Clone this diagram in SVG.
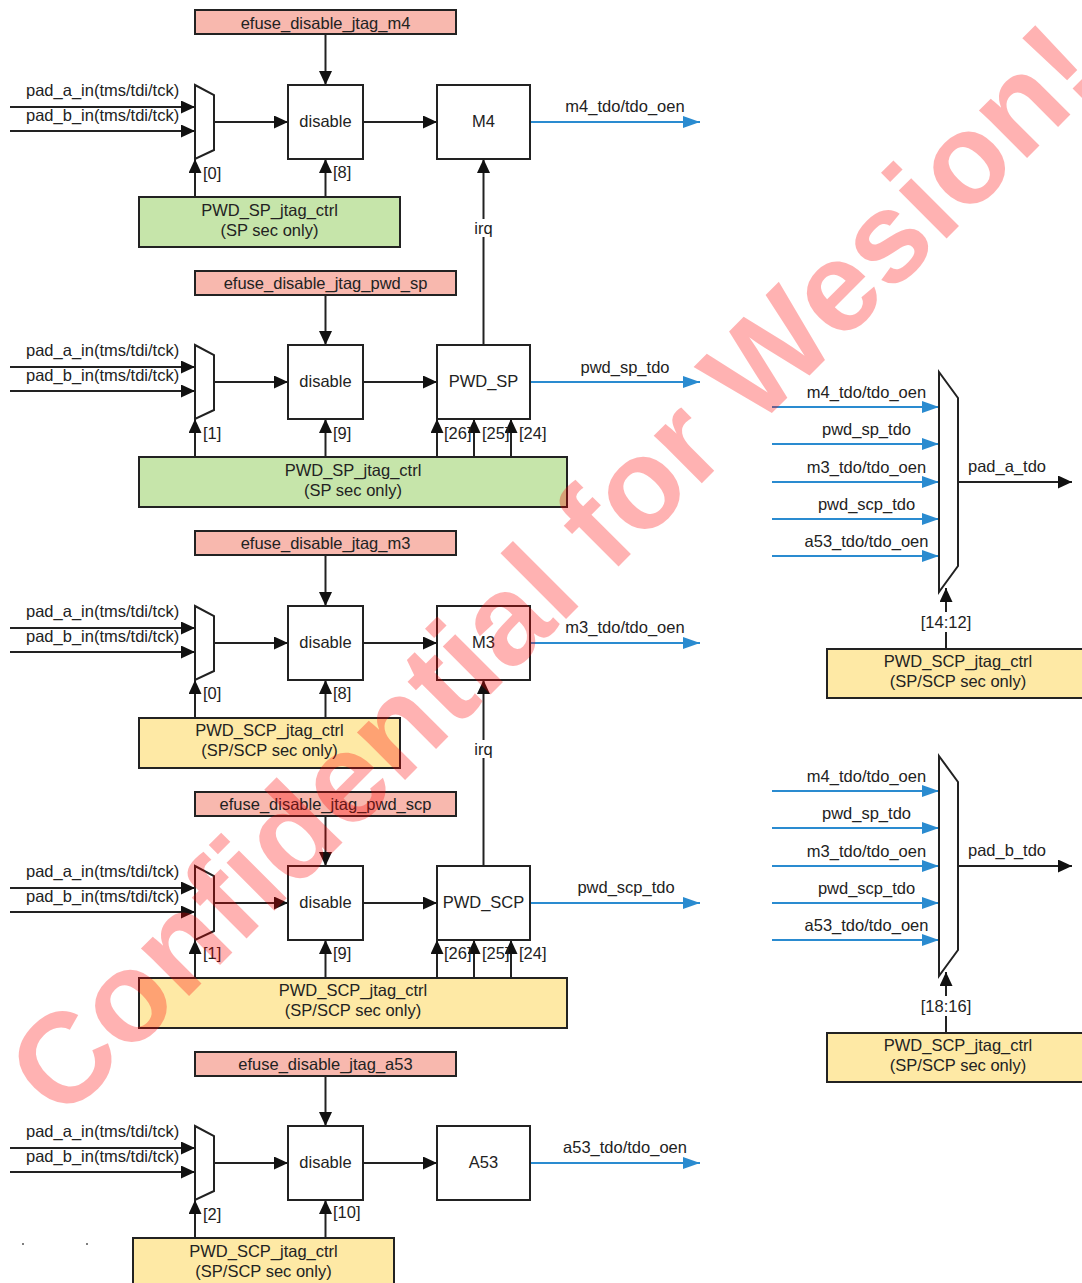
<svg xmlns="http://www.w3.org/2000/svg" width="1082" height="1283" viewBox="0 0 1082 1283">
<style>
text{font-family:"Liberation Sans",Arial,sans-serif;font-size:16.5px;fill:#222}
.c{text-anchor:middle}
.box{fill:#fff;stroke:#222;stroke-width:2}
.ef{fill:#f8b8ae;stroke:#222;stroke-width:2}
.gr{fill:#c6e5aa;stroke:#222;stroke-width:2}
.ye{fill:#fee9a5;stroke:#222;stroke-width:2}
.mux{fill:#fff;stroke:#222;stroke-width:2;stroke-linejoin:miter}
.k{stroke:#222;stroke-width:2;fill:none;marker-end:url(#ak)}
.b{stroke:#2a8bd0;stroke-width:2;fill:none;marker-end:url(#ab)}
.bg{fill:#fff}
.wm{font-family:"Liberation Sans",Arial,sans-serif;font-weight:bold;font-size:128px;fill:#ff0000;fill-opacity:0.3}
</style>
<defs>
<marker id="ak" markerUnits="userSpaceOnUse" markerWidth="15" markerHeight="13" refX="14" refY="6.5" orient="auto"><path d="M0,0 L14,6.5 L0,13 z" fill="#111"/></marker>
<marker id="ab" markerUnits="userSpaceOnUse" markerWidth="18" markerHeight="12" refX="17" refY="6" orient="auto"><path d="M0,0 L17,6 L0,12 z" fill="#2a8bd0"/></marker>
</defs>
<rect width="1082" height="1283" fill="#fff"/>

<g id="connectors">
<!-- section 1 -->
<path class="k" d="M325.5,34V85"/>
<path class="k" d="M10,107H195"/><path class="k" d="M10,131H195"/>
<path class="k" d="M214,122H288"/><path class="k" d="M363,122H437"/>
<path class="b" d="M530,122H700"/>
<path class="k" d="M195,197V159"/><path class="k" d="M325.5,197V159"/>
<path class="k" d="M483.5,345V159"/>
<!-- section 2 -->
<path class="k" d="M325.5,294V345"/>
<path class="k" d="M10,367H195"/><path class="k" d="M10,391H195"/>
<path class="k" d="M214,382H288"/><path class="k" d="M363,382H437"/>
<path class="b" d="M530,382H700"/>
<path class="k" d="M195,457V419"/><path class="k" d="M325.5,457V419"/>
<path class="k" d="M437,457V419"/><path class="k" d="M474,457V419"/><path class="k" d="M511,457V419"/>
<!-- section 3 -->
<path class="k" d="M325.5,555V606"/>
<path class="k" d="M10,628H195"/><path class="k" d="M10,652H195"/>
<path class="k" d="M214,643H288"/><path class="k" d="M363,643H437"/>
<path class="b" d="M530,643H700"/>
<path class="k" d="M195,718V680"/><path class="k" d="M325.5,718V680"/>
<path class="k" d="M483.5,866V680"/>
<!-- section 4 -->
<path class="k" d="M325.5,815V866"/>
<path class="k" d="M10,888H195"/><path class="k" d="M10,912H195"/>
<path class="k" d="M214,903H288"/><path class="k" d="M363,903H437"/>
<path class="b" d="M530,903H700"/>
<path class="k" d="M195,978V940"/><path class="k" d="M325.5,978V940"/>
<path class="k" d="M437,978V940"/><path class="k" d="M474,978V940"/><path class="k" d="M511,978V940"/>
<!-- section 5 -->
<path class="k" d="M325.5,1075V1126"/>
<path class="k" d="M10,1148H195"/><path class="k" d="M10,1172H195"/>
<path class="k" d="M214,1163H288"/><path class="k" d="M363,1163H437"/>
<path class="b" d="M530,1163H700"/>
<path class="k" d="M195,1238V1200"/><path class="k" d="M325.5,1238V1200"/>
<!-- right mux A -->
<path class="b" d="M772,407H939"/><path class="b" d="M772,444H939"/><path class="b" d="M772,482H939"/><path class="b" d="M772,519H939"/><path class="b" d="M772,556H939"/>
<path class="k" d="M958,482H1072"/>
<path class="k" d="M946,649V588"/>
<!-- right mux B -->
<path class="b" d="M772,791H939"/><path class="b" d="M772,828H939"/><path class="b" d="M772,866H939"/><path class="b" d="M772,903H939"/><path class="b" d="M772,940H939"/>
<path class="k" d="M958,866H1072"/>
<path class="k" d="M946,1033V972"/>

<!-- connector labels -->
<text x="26" y="96">pad_a_in(tms/tdi/tck)</text><text x="26" y="121">pad_b_in(tms/tdi/tck)</text>
<text x="26" y="356">pad_a_in(tms/tdi/tck)</text><text x="26" y="381">pad_b_in(tms/tdi/tck)</text>
<text x="26" y="617">pad_a_in(tms/tdi/tck)</text><text x="26" y="642">pad_b_in(tms/tdi/tck)</text>
<text x="26" y="877">pad_a_in(tms/tdi/tck)</text><text x="26" y="902">pad_b_in(tms/tdi/tck)</text>
<text x="26" y="1137">pad_a_in(tms/tdi/tck)</text><text x="26" y="1162">pad_b_in(tms/tdi/tck)</text>

<text class="c" x="625" y="112">m4_tdo/tdo_oen</text>
<text class="c" x="625" y="373">pwd_sp_tdo</text>
<text class="c" x="625" y="633">m3_tdo/tdo_oen</text>
<text class="c" x="626" y="893">pwd_scp_tdo</text>
<text class="c" x="625" y="1153">a53_tdo/tdo_oen</text>

<text x="203" y="179">[0]</text><text x="333" y="178">[8]</text>
<text x="203" y="439">[1]</text><text x="333" y="439">[9]</text>
<text x="444" y="439">[26]</text><text x="482" y="439">[25]</text><text x="519" y="439">[24]</text>
<text x="203" y="699">[0]</text><text x="333" y="699">[8]</text>
<text x="203" y="959">[1]</text><text x="333" y="959">[9]</text>
<text x="444" y="959">[26]</text><text x="482" y="959">[25]</text><text x="519" y="959">[24]</text>
<text x="203" y="1220">[2]</text><text x="333" y="1218">[10]</text>

<rect class="bg" x="472" y="219" width="24" height="18"/><text class="c" x="483.5" y="234">irq</text>
<rect class="bg" x="472" y="740" width="24" height="18"/><text class="c" x="483.5" y="755">irq</text>

<text class="c" x="866.5" y="398">m4_tdo/tdo_oen</text>
<text class="c" x="866.5" y="435">pwd_sp_tdo</text>
<text class="c" x="866.5" y="473">m3_tdo/tdo_oen</text>
<text class="c" x="866.5" y="510">pwd_scp_tdo</text>
<text class="c" x="866.5" y="547">a53_tdo/tdo_oen</text>
<text x="968" y="472">pad_a_tdo</text>
<rect class="bg" x="918" y="612" width="56" height="20"/><text class="c" x="946" y="628">[14:12]</text>

<text class="c" x="866.5" y="782">m4_tdo/tdo_oen</text>
<text class="c" x="866.5" y="819">pwd_sp_tdo</text>
<text class="c" x="866.5" y="857">m3_tdo/tdo_oen</text>
<text class="c" x="866.5" y="894">pwd_scp_tdo</text>
<text class="c" x="866.5" y="931">a53_tdo/tdo_oen</text>
<text x="968" y="856">pad_b_tdo</text>
<rect class="bg" x="918" y="996" width="56" height="20"/><text class="c" x="946" y="1012">[18:16]</text>
</g>

<!-- section 1 nodes -->
<g id="efuse_m4"><rect class="ef" x="195" y="10" width="261" height="24"/><text class="c" x="325.5" y="28.5">efuse_disable_jtag_m4</text></g>
<g id="mux_m4"><polygon class="mux" points="195,85 214,95 214,150 195,159"/></g>
<g id="disable_m4"><rect class="box" x="288" y="85" width="75" height="74"/><text class="c" x="325.5" y="126.5">disable</text></g>
<g id="core_m4"><rect class="box" x="437" y="85" width="93" height="74"/><text class="c" x="483.5" y="126.5">M4</text></g>
<g id="ctrl_m4"><rect class="gr" x="139" y="197" width="261" height="50"/><text class="c" x="269.5" y="216">PWD_SP_jtag_ctrl</text><text class="c" x="269.5" y="236">(SP sec only)</text></g>

<!-- section 2 nodes -->
<g id="efuse_pwd_sp"><rect class="ef" x="195" y="271" width="261" height="24"/><text class="c" x="325.5" y="289">efuse_disable_jtag_pwd_sp</text></g>
<g id="mux_pwd_sp"><polygon class="mux" points="195,345 214,355 214,410 195,419"/></g>
<g id="disable_pwd_sp"><rect class="box" x="288" y="345" width="75" height="74"/><text class="c" x="325.5" y="386.5">disable</text></g>
<g id="core_pwd_sp"><rect class="box" x="437" y="345" width="93" height="74"/><text class="c" x="483.5" y="386.5">PWD_SP</text></g>
<g id="ctrl_pwd_sp"><rect class="gr" x="139" y="457" width="428" height="50"/><text class="c" x="353" y="476">PWD_SP_jtag_ctrl</text><text class="c" x="353" y="496">(SP sec only)</text></g>

<!-- section 3 nodes -->
<g id="efuse_m3"><rect class="ef" x="195" y="531" width="261" height="24"/><text class="c" x="325.5" y="549">efuse_disable_jtag_m3</text></g>
<g id="mux_m3"><polygon class="mux" points="195,606 214,616 214,671 195,680"/></g>
<g id="disable_m3"><rect class="box" x="288" y="606" width="75" height="74"/><text class="c" x="325.5" y="647.5">disable</text></g>
<g id="core_m3"><rect class="box" x="437" y="606" width="93" height="74"/><text class="c" x="483.5" y="647.5">M3</text></g>
<g id="ctrl_m3"><rect class="ye" x="139" y="718" width="261" height="50"/><text class="c" x="269.5" y="736">PWD_SCP_jtag_ctrl</text><text class="c" x="269.5" y="756">(SP/SCP sec only)</text></g>

<!-- section 4 nodes -->
<g id="efuse_pwd_scp"><rect class="ef" x="195" y="792" width="261" height="24"/><text class="c" x="325.5" y="810">efuse_disable_jtag_pwd_scp</text></g>
<g id="mux_pwd_scp"><polygon class="mux" points="195,866 214,876 214,931 195,940"/></g>
<g id="disable_pwd_scp"><rect class="box" x="288" y="866" width="75" height="74"/><text class="c" x="325.5" y="907.5">disable</text></g>
<g id="core_pwd_scp"><rect class="box" x="437" y="866" width="93" height="74"/><text class="c" x="483.5" y="907.5">PWD_SCP</text></g>
<g id="ctrl_pwd_scp"><rect class="ye" x="139" y="978" width="428" height="50"/><text class="c" x="353" y="996">PWD_SCP_jtag_ctrl</text><text class="c" x="353" y="1016">(SP/SCP sec only)</text></g>

<!-- section 5 nodes -->
<g id="efuse_a53"><rect class="ef" x="195" y="1052" width="261" height="24"/><text class="c" x="325.5" y="1070">efuse_disable_jtag_a53</text></g>
<g id="mux_a53"><polygon class="mux" points="195,1126 214,1136 214,1191 195,1200"/></g>
<g id="disable_a53"><rect class="box" x="288" y="1126" width="75" height="74"/><text class="c" x="325.5" y="1167.5">disable</text></g>
<g id="core_a53"><rect class="box" x="437" y="1126" width="93" height="74"/><text class="c" x="483.5" y="1167.5">A53</text></g>
<g id="ctrl_a53"><rect class="ye" x="133" y="1238" width="261" height="50"/><text class="c" x="263.5" y="1257">PWD_SCP_jtag_ctrl</text><text class="c" x="263.5" y="1277">(SP/SCP sec only)</text></g>
<g id="dots"><circle cx="23" cy="1244" r="1" fill="#555"/><circle cx="87" cy="1244" r="1" fill="#555"/></g>

<!-- right muxes -->
<g id="mux_pad_a"><polygon class="mux" points="939,372 958,398 958,566 939,592"/></g>
<g id="ctrl_pad_a"><rect class="ye" x="827" y="649" width="262" height="49"/><text class="c" x="958" y="667">PWD_SCP_jtag_ctrl</text><text class="c" x="958" y="687">(SP/SCP sec only)</text></g>
<g id="mux_pad_b"><polygon class="mux" points="939,756 958,782 958,950 939,976"/></g>
<g id="ctrl_pad_b"><rect class="ye" x="827" y="1033" width="262" height="49"/><text class="c" x="958" y="1051">PWD_SCP_jtag_ctrl</text><text class="c" x="958" y="1071">(SP/SCP sec only)</text></g>

<g id="watermark"><text class="wm" transform="translate(62,1123) rotate(-45)">Confidential for Wesion!</text></g>
</svg>
